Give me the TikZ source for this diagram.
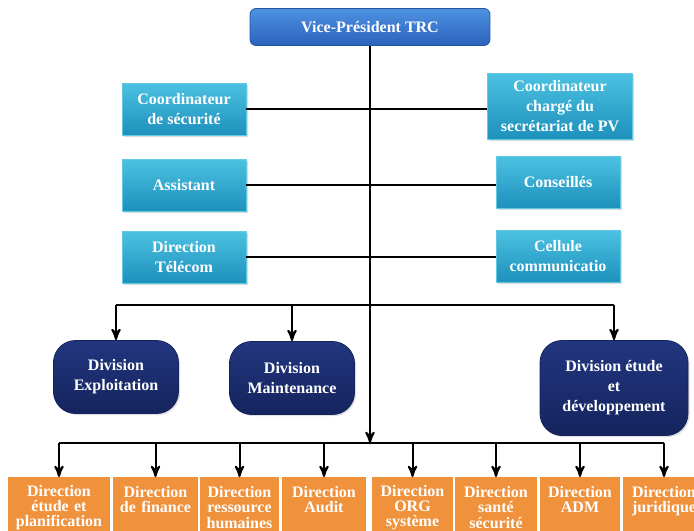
\documentclass[tikz,border=0pt]{standalone}
\usepackage{fontspec}
\setmainfont{Liberation Serif}
\usepackage{xcolor}
\usepackage{tikz}
\usetikzlibrary{arrows,shadows}
\definecolor{vpTop}{HTML}{4F92E2}
\definecolor{vpBot}{HTML}{2A62BC}
\definecolor{vpLine}{HTML}{2756A0}
\definecolor{cyTop}{HTML}{4CC2E2}
\definecolor{cyBot}{HTML}{1D90BC}
\definecolor{cyLine}{HTML}{62C8E4}
\definecolor{divTop}{HTML}{22367F}
\definecolor{divBot}{HTML}{15245E}
\definecolor{dirFill}{HTML}{F0913C}

\tikzset{
  VPStyle/.style={rectangle, rounded corners=3pt, top color=vpTop, bottom color=vpBot,
    draw=vpLine, minimum width=120pt, minimum height=18.5pt, text=white,
    font=\bfseries\fontsize{8}{10}\selectfont},
  BoxStyle/.style={rectangle, top color=cyTop, bottom color=cyBot, draw=cyLine, text=white,
    align=center, inner sep=2pt, minimum width=62pt, minimum height=26pt,
    font=\bfseries\fontsize{8}{10}\selectfont,
    drop shadow={opacity=0.3, shadow xshift=0.8pt, shadow yshift=-0.8pt}},
  DivStyle/.style={rectangle, rounded corners=11pt, top color=divTop, bottom color=divBot,
    draw=divBot, text=white, align=center, minimum width=62.5pt, minimum height=36.5pt,
    font=\bfseries\fontsize{8}{10}\selectfont,
    drop shadow={opacity=0.25, shadow xshift=0.8pt, shadow yshift=-0.8pt}},
  DirStyle/.style={rectangle, fill=dirFill, text=white, anchor=north, align=center,
    inner xsep=1.5pt, inner ysep=0.5pt, font=\bfseries\fontsize{8}{7.6}\selectfont},
  EdgeStyle/.style={line width=1pt, black},
}

\begin{document}
\begin{tikzpicture}[x=0.5pt, y=-0.5pt, >=stealth']
\useasboundingbox (0,0) rectangle (694,530);
\clip (0,0) rectangle (694,530);

\node[VPStyle] (vp) at (370,27) {Vice-Président TRC};

\node[BoxStyle] (secu) at (184,109) {Coordinateur\\de sécurité};
\node[BoxStyle] (assist) at (184,185) {Assistant};
\node[BoxStyle] (telecom) at (184,257) {Direction\\Télécom};
\node[BoxStyle, minimum width=72.5pt, minimum height=33pt] (pv) at (560,106) {Coordinateur\\chargé du\\secrétariat de PV};
\node[BoxStyle] (conseil) at (558,182) {Conseillés};
\node[BoxStyle] (cellule) at (558,256) {Cellule\\communicatio};

\node[DivStyle] (exploit) at (116,377) {Division\\Exploitation};
\node[DivStyle] (maint) at (292,378) {Division\\Maintenance};
\node[DivStyle, minimum width=74pt, minimum height=47.5pt] (etude) at (614,388) {Division étude\\et\\développement};

\coordinate (split) at (370,305);
\coordinate (bar) at (370,443);

\foreach \x/\w/\txt [count=\i] in {
  59/51/{Direction\\étude et\\planification},
  155.5/42.5/{Direction\\de finance\\\phantom{X}},
  239.5/39.5/{Direction\\ressource\\humaines},
  324/42/{Direction\\Audit\\\phantom{X}},
  412.5/40.5/{Direction\\ORG\\système},
  496/41/{Direction\\santé\\sécurité},
  580/40/{Direction\\ADM\\\phantom{X}},
  664/41/{Direction\\juridique\\\phantom{X}}}
  \node[DirStyle, minimum width=\w pt, text width=\w pt-3pt, minimum height=30pt] (d\i) at (\x,477) {\txt};

\draw[EdgeStyle,->] (vp.south) -- (bar);
\draw[EdgeStyle] (secu.east) -- (secu.east -| pv.west);
\draw[EdgeStyle] (assist) -- (assist -| conseil.west);
\draw[EdgeStyle] (telecom) -- (telecom -| cellule.west);

\draw[EdgeStyle] (exploit.north |- split) -- (etude.north |- split);
\foreach \n in {exploit, maint, etude}
  \draw[EdgeStyle,->] (\n.north |- split) -- (\n.north);

\draw[EdgeStyle] (d1.north |- bar) -- (d8.north |- bar);
\foreach \i in {1,...,8}
  \draw[EdgeStyle,->] (d\i.north |- bar) -- (d\i.north);
\end{tikzpicture}
\end{document}
